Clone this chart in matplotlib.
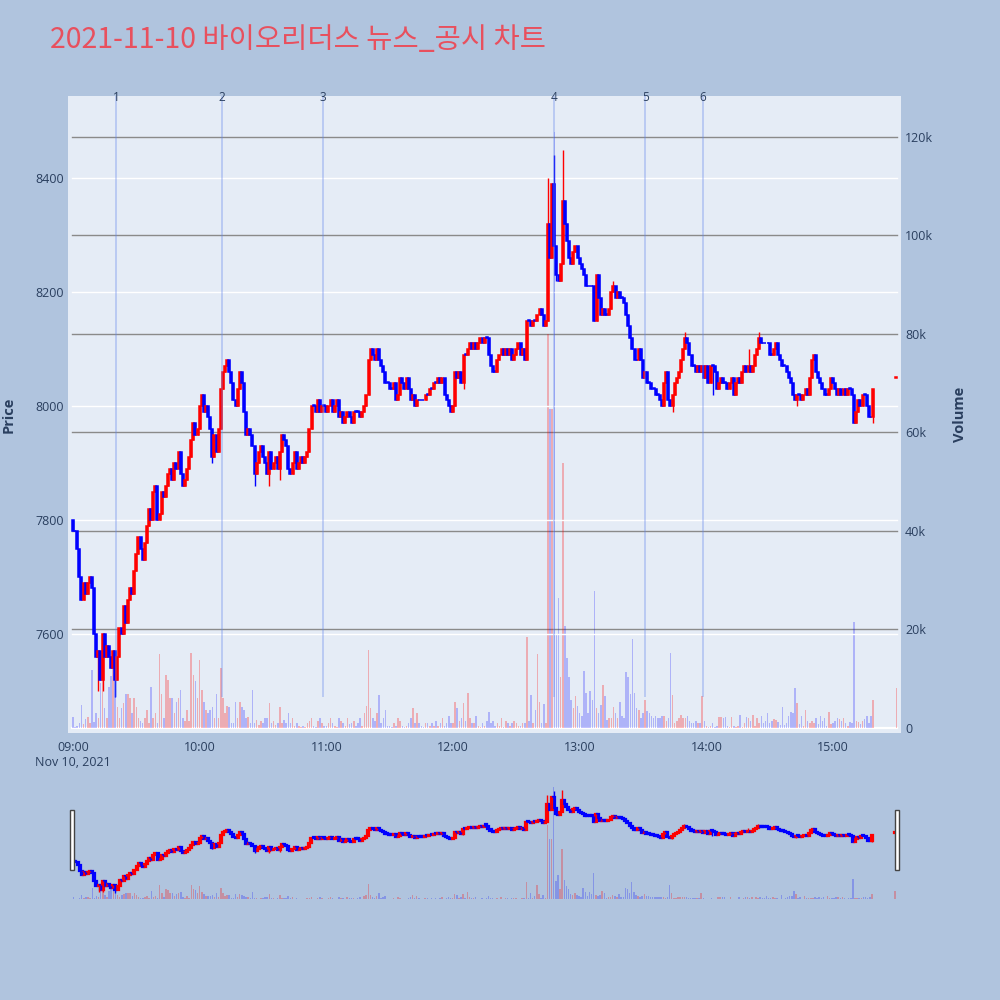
import matplotlib
matplotlib.use("Agg")
import matplotlib.pyplot as plt
import numpy as np
from matplotlib.patches import Rectangle

# ---------------- data (minutes after 09:00) ----------------
first_open = 7800
close_px = [
    7780, 7780, 7750, 7700, 7660, 7690, 7670, 7690, 7700, 7680,
    7600, 7560, 7570, 7520, 7600, 7560, 7580, 7560, 7540, 7570,
    7520, 7560, 7610, 7600, 7650, 7620, 7660, 7680, 7670, 7710,
    7740, 7770, 7750, 7730, 7760, 7790, 7820, 7800, 7850, 7860,
    7800, 7810, 7850, 7840, 7860, 7880, 7890, 7870, 7900, 7890,
    7920, 7880, 7860, 7870, 7890, 7910, 7940, 7970, 7950, 7960,
    8000, 8020, 7990, 8000, 7980, 7960, 7910, 7950, 7920, 7960,
    8030, 8060, 8070, 8080, 8060, 8040, 8010, 8000, 8030, 8060,
    8040, 7990, 7950, 7960, 7950, 7930, 7880, 7900, 7920, 7930,
    7910, 7900, 7880, 7920, 7890, 7900, 7910, 7890, 7920, 7950,
    7940, 7930, 7890, 7880, 7900, 7920, 7890, 7900, 7910, 7900,
    7910, 7920, 7960, 8000, 8000, 7990, 8010, 7990, 8000, 8000,
    7990, 8000, 8010, 7990, 8000, 8010, 7980, 7990, 7970, 7980,
    7990, 7980, 7970, 7990, 7990, 7990, 7980, 7990, 8000, 8020,
    8080, 8100, 8090, 8080, 8100, 8080, 8070, 8060, 8040, 8040,
    8030, 8030, 8040, 8010, 8020, 8050, 8040, 8030, 8050, 8030,
    8010, 8020, 8000, 8010, 8010, 8010, 8010, 8020, 8020, 8030,
    8030, 8040, 8040, 8050, 8040, 8050, 8020, 8010, 8000, 7990,
    8000, 8060, 8050, 8060, 8040, 8090, 8090, 8100, 8110, 8100,
    8110, 8100, 8110, 8120, 8110, 8120, 8120, 8090, 8070, 8060,
    8060, 8080, 8090, 8100, 8090, 8100, 8090, 8100, 8080, 8090,
    8100, 8110, 8090, 8100, 8080, 8150, 8150, 8140, 8150, 8150,
    8160, 8170, 8160, 8140, 8150, 8320, 8260, 8390, 8280, 8230,
    8220, 8250, 8360, 8320, 8290, 8260, 8250, 8270, 8280, 8260,
    8250, 8240, 8230, 8210, 8210, 8210, 8210, 8150, 8230, 8190,
    8160, 8170, 8160, 8160, 8170, 8200, 8210, 8190, 8200, 8190,
    8190, 8180, 8160, 8140, 8120, 8100, 8080, 8080, 8100, 8080,
    8050, 8060, 8040, 8040, 8030, 8030, 8020, 8020, 8010, 8000,
    8040, 8060, 8010, 8000, 8020, 8040, 8050, 8060, 8080, 8100,
    8120, 8110, 8090, 8070, 8070, 8060, 8070, 8060, 8070, 8050,
    8070, 8040, 8070, 8070, 8060, 8030, 8040, 8050, 8040, 8040,
    8030, 8040, 8050, 8020, 8040, 8050, 8040, 8060, 8070, 8060,
    8070, 8060, 8070, 8090, 8100, 8120, 8110, 8110, 8110, 8110,
    8090, 8090, 8100, 8110, 8090, 8080, 8070, 8070, 8060, 8050,
    8040, 8020, 8010, 8020, 8020, 8010, 8020, 8030, 8020, 8050,
    8080, 8090, 8060, 8050, 8040, 8030, 8020, 8020, 8030, 8050,
    8040, 8030, 8020, 8030, 8020, 8030, 8020, 8030, 8030, 8020,
    7970, 7990, 8010, 8000, 8020, 8020, 8000, 7980, 7980, 8030,
]
volume_k = [
    2.2, 0.3, 0.5, 1.0, 4.7, 0.8, 1.8, 2.3, 1.0, 11.8,
    1.2, 3.0, 2.0, 9.1, 13.0, 4.0, 2.0, 8.4, 10.5, 12.0,
    11.0, 4.3, 2.0, 4.0, 5.0, 7.0, 7.0, 6.0, 3.0, 6.0,
    4.3, 2.0, 1.5, 1.0, 2.0, 3.7, 1.0, 8.4, 2.0, 3.0,
    1.0, 15.0, 7.0, 2.0, 10.8, 9.7, 6.0, 6.0, 3.0, 5.3,
    6.0, 7.7, 2.0, 1.5, 3.7, 1.5, 15.2, 10.8, 9.5, 6.0,
    13.8, 7.7, 5.3, 3.7, 3.0, 3.7, 4.3, 2.0, 7.0, 2.0,
    12.1, 6.0, 3.0, 4.5, 4.3, 1.0, 1.0, 5.3, 2.0, 5.3,
    4.3, 3.7, 2.0, 2.3, 1.0, 7.7, 1.0, 1.6, 0.6, 1.5,
    1.0, 2.0, 2.0, 5.0, 1.0, 1.5, 0.6, 1.0, 4.3, 1.0,
    1.6, 1.0, 3.0, 1.0, 2.0, 0.5, 1.0, 0.5, 0.3, 0.4,
    0.3, 1.0, 1.5, 2.0, 0.5, 0.3, 1.5, 2.0, 1.0, 0.5,
    0.5, 1.0, 2.0, 1.0, 0.5, 0.3, 2.0, 1.5, 1.0, 0.5,
    2.0, 0.8, 1.0, 1.5, 0.5, 1.0, 2.0, 0.5, 3.0, 4.5,
    15.8, 4.0, 2.0, 1.5, 3.0, 6.7, 1.0, 2.0, 3.7, 0.5,
    0.5, 0.3, 1.0, 0.5, 2.0, 1.5, 0.5, 0.3, 0.5, 1.0,
    2.0, 4.0, 1.0, 3.0, 1.0, 0.5, 0.3, 1.0, 1.0, 0.5,
    1.0, 0.5, 1.5, 0.5, 1.0, 2.0, 0.5, 1.0, 2.4, 1.0,
    1.0, 5.3, 4.0, 1.5, 2.0, 5.0, 1.5, 7.2, 2.0, 1.0,
    1.0, 2.4, 0.5, 0.3, 1.0, 0.5, 1.5, 3.2, 1.0, 1.5,
    0.5, 1.0, 0.5, 2.0, 0.3, 1.5, 1.0, 0.5, 1.0, 1.5,
    1.0, 0.5, 0.5, 1.0, 1.0, 18.5, 1.5, 6.6, 1.0, 3.6,
    15.0, 5.2, 1.0, 4.9, 1.0, 80.0, 64.7, 64.7, 121.0, 19.0,
    26.4, 10.4, 53.8, 20.7, 14.2, 10.4, 5.7, 4.0, 6.5, 4.5,
    3.0, 2.5, 11.6, 7.2, 3.0, 7.6, 5.7, 27.9, 4.0, 3.0,
    4.7, 8.7, 6.4, 1.6, 2.0, 2.0, 4.3, 3.0, 2.0, 5.3,
    2.5, 2.0, 11.4, 10.4, 7.0, 18.0, 7.1, 4.0, 3.7, 2.0,
    3.0, 5.7, 3.5, 3.0, 2.5, 2.0, 2.5, 2.0, 2.0, 2.5,
    2.5, 1.5, 2.0, 15.3, 6.7, 1.0, 1.5, 2.0, 2.6, 2.0,
    2.0, 2.5, 1.5, 1.0, 1.0, 1.5, 1.0, 1.0, 6.5, 1.5,
    0.5, 0.3, 0.5, 1.0, 0.3, 0.5, 2.3, 2.3, 2.0, 2.3,
    0.5, 0.3, 2.3, 0.5, 0.3, 0.5, 2.6, 0.3, 1.0, 2.3,
    2.0, 1.5, 2.6, 0.5, 2.0, 1.0, 2.5, 1.0, 1.5, 3.0,
    1.0, 1.5, 1.8, 1.6, 1.2, 0.6, 4.3, 0.6, 1.0, 2.5,
    3.3, 3.0, 8.2, 5.0, 0.8, 2.5, 0.5, 3.6, 1.5, 1.0,
    1.5, 1.0, 2.0, 0.8, 2.5, 1.5, 2.0, 0.5, 3.2, 0.8,
    1.0, 1.5, 2.0, 1.8, 1.5, 2.0, 1.0, 0.5, 1.2, 1.0,
    21.6, 1.5, 1.2, 0.8, 1.5, 1.8, 2.5, 1.0, 2.5, 5.7,
]
auction_minute = 390          # 15:30 closing auction
auction_px = 8050
auction_vol_k = 8.2

wick_idx = [12, 14, 20, 66, 86, 93, 98, 185, 225, 227, 228, 229, 232, 256, 284, 290, 303, 320, 325, 343, 370, 379]
wick_hi = [None, None, None, None, None, None, None, None, 8400, 8390, 8440, None, 8450, 8220, None, 8130, None, 8100, 8130, None, None, None]
wick_lo = [7500, 7500, 7490, 7900, 7860, 7860, 7870, 8030, None, None, None, 8220, None, None, 7990, None, 8020, None, None, 8000, 7970, 7970]

news_minutes = [20.4, 70.6, 118.4, 227.9, 271.0, 298.4]
news_labels = ["1", "2", "3", "4", "5", "6"]

time_ticks = [0, 60, 120, 180, 240, 300, 360]
time_labels = ["09:00\nNov 10, 2021", "10:00", "11:00", "12:00", "13:00", "14:00", "15:00"]
price_ticks = [7600, 7800, 8000, 8200, 8400]
vol_ticks = [0, 20000, 40000, 60000, 80000, 100000, 120000]
vol_tick_labels = ["0", "20k", "40k", "60k", "80k", "100k", "120k"]

title_text = "2021-11-10 바이오리더스 뉴스_공시 차트"

# ---------------- derived candle structure ----------------
n = len(close_px)
x = list(range(n)) + [auction_minute]
c = np.array(close_px + [auction_px], dtype=float)
o = np.array([first_open] + close_px[:-1] + [auction_px], dtype=float)
hi = np.maximum(o, c)
lo = np.minimum(o, c)
for k, i in enumerate(wick_idx):
    if wick_hi[k] is not None:
        hi[i] = max(hi[i], wick_hi[k])
    if wick_lo[k] is not None:
        lo[i] = min(lo[i], wick_lo[k])
vol = np.array(volume_k + [auction_vol_k]) * 1000
x = np.array(x, dtype=float)

inc = []
for i in range(len(c)):
    prev = c[i - 1] if i > 0 else o[i]
    inc.append(c[i] > o[i] or (c[i] == o[i] and c[i] > prev))
inc = np.array(inc)
ccol = np.where(inc, "#ff0000", "#0000ff")
vcol = [(1, 0, 0, 0.27) if v else (0, 0, 1, 0.24) for v in inc]

# ---------------- figure ----------------
BG = "#b0c4de"
PLOT_BG = "#e5ecf6"
TXT = "#2a3f5f"
plt.rcParams["font.family"] = ["Open Sans", "DejaVu Sans"]

fig = plt.figure(figsize=(10, 10), dpi=100, facecolor=BG)

def px_rect(l, t, r, b):
    return [l / 1000, 1 - b / 1000, (r - l) / 1000, (b - t) / 1000]

XLIM = (-2.37, 392.2)
PLIM = (7426.5, 8544)
VLIM = (-1015, 128300)

ax_v = fig.add_axes(px_rect(68, 96, 901, 733))
ax_v.set_facecolor(PLOT_BG)
ax_p = fig.add_axes(px_rect(68, 96, 901, 733), sharex=ax_v)
ax_p.set_facecolor("none")
ax_v.set_zorder(1)
ax_p.set_zorder(2)

# volume axis (right)
ax_v.set_xlim(*XLIM)
ax_v.set_ylim(*VLIM)
gx0, gx1 = 4 / 833, 829 / 833
for t in vol_ticks[1:]:
    ax_v.axhline(t, xmin=gx0, xmax=gx1, color="#8a8a8a", lw=1.0, zorder=0)
ax_v.axhline(0, xmin=gx0, xmax=gx1, color="white", lw=1.6, zorder=0.5)
ax_v.bar(x, vol, width=0.7, color=vcol, linewidth=0, zorder=1)
ax_v.yaxis.tick_right()
ax_v.set_yticks(vol_ticks)
ax_v.set_yticklabels(vol_tick_labels)
ax_v.tick_params(axis="y", length=0, pad=3, labelsize=9, labelcolor=TXT)
ax_v.yaxis.set_label_position("right")
ax_v.set_ylabel("Volume", fontsize=10.5, fontweight="bold", color=TXT, labelpad=14)
ax_v.tick_params(axis="x", length=0, pad=6, labelsize=9, labelcolor=TXT)
ax_v.set_xticks(time_ticks)
ax_v.set_xticklabels(time_labels)
for s in ax_v.spines.values():
    s.set_visible(False)

# price axis (left)
ax_p.set_ylim(*PLIM)
for t in price_ticks:
    ax_p.axhline(t, xmin=gx0, xmax=gx1, color="white", lw=1.0, zorder=0)
ax_p.vlines(x, lo, hi, colors=ccol, lw=1.0, zorder=2)
body_h = np.maximum(np.abs(c - o), 1.5)
ax_p.bar(x, body_h, bottom=np.minimum(o, c), width=0.95, color=ccol, edgecolor=ccol,
         linewidth=1.1, zorder=3)
ax_p.set_yticks(price_ticks)
ax_p.set_yticklabels([str(t) for t in price_ticks])
ax_p.tick_params(axis="y", length=0, pad=3, labelsize=9, labelcolor=TXT)
ax_p.tick_params(axis="x", bottom=False, labelbottom=False)
ax_p.set_ylabel("Price", fontsize=10.5, fontweight="bold", color=TXT, labelpad=14)
for s in ax_p.spines.values():
    s.set_visible(False)

# news lines
line_bottom = lo.min()
for m, lab in zip(news_minutes, news_labels):
    ax_p.vlines(m, line_bottom, PLIM[1], colors=(0.38, 0.52, 0.92, 0.42), lw=1.1, zorder=4)
    ax_p.text(m, PLIM[1] - 2.5, lab, ha="center", va="center", fontsize=8.5, color=TXT,
              zorder=5, clip_on=False)

# title
fig.text(0.05, 1 - 40 / 1000, title_text, fontsize=20.5, color="#e8505e", ha="left", va="center",
         family=["Noto Sans CJK KR", "DejaVu Sans"])

# ---------------- range slider ----------------
MXLIM = (-0.62, 391.4)
ms_v = fig.add_axes(px_rect(72, 780, 898, 900))
ms_v.set_facecolor(PLOT_BG)
ms_v.set_xlim(*MXLIM)
ms_v.set_ylim(*VLIM)
ms_v.bar(x, vol, width=0.7, color=vcol, linewidth=0)
ms_v.axis("off")
ms_v.patch.set_visible(True)
ms_p = fig.add_axes(px_rect(72, 780, 898, 900), sharex=ms_v)
ms_p.set_facecolor("none")
ms_p.set_ylim(*PLIM)
ms_p.vlines(x, lo, hi, colors=ccol, lw=1.0)
ms_p.bar(x, np.maximum(np.abs(c - o), 10), bottom=np.minimum(o, c), width=0.95, color=ccol,
         edgecolor=ccol, linewidth=1.6)
ms_p.axis("off")
for xl in (69.5, 894.5):
    fig.patches.append(Rectangle((xl / 1000, 1 - 870 / 1000), 4 / 1000, 60 / 1000,
                                 transform=fig.transFigure, facecolor="white",
                                 edgecolor="#444444", lw=1.0, zorder=10))

fig.savefig("out.png", dpi=100, facecolor=BG)
